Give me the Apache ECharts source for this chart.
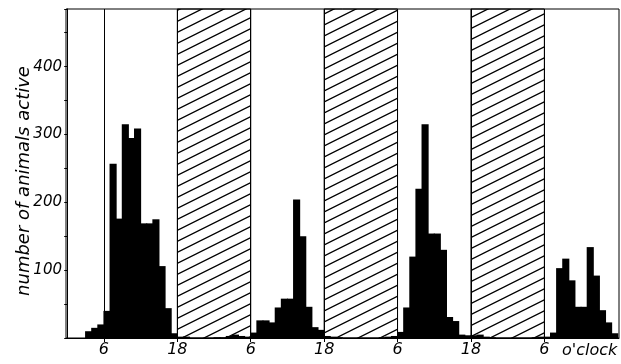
<!DOCTYPE html>
<html>
<head>
<meta charset="utf-8">
<style>
  html, body { margin: 0; padding: 0; background: #fff; }
  #chart { width: 621px; height: 364px; }
</style>
<script src="https://cdn.jsdelivr.net/npm/echarts@6/dist/echarts.min.js"></script>
</head>
<body>
<div id="chart"></div>
<script>
// hour 0 = midnight before the first light period, one bin per hour
const hours = [
  0, 1, 2, 3, 4, 5, 6, 7, 8, 9, 10, 11, 12, 13, 14, 15, 16, 17,
  18, 19, 20, 21, 22, 23, 24, 25, 26, 27, 28, 29,
  30, 31, 32, 33, 34, 35, 36, 37, 38, 39, 40, 41,
  42, 43, 44, 45, 46, 47, 48, 49, 50, 51, 52, 53,
  54, 55, 56, 57, 58, 59, 60, 61, 62, 63, 64, 65,
  66, 67, 68, 69, 70, 71, 72, 73, 74, 75, 76, 77,
  78, 79, 80, 81, 82, 83, 84, 85, 86, 87, 88, 89
];
const animalsActive = [
  0, 0, 0, 10, 15, 20, 40, 257, 176, 315, 295, 309, 169, 169, 175, 106, 44, 7,
  2, 2, 0, 0, 0, 0, 1, 1, 3, 5, 3, 2,
  8, 26, 26, 23, 45, 58, 58, 204, 150, 46, 16, 12,
  3, 2, 1, 0, 0, 0, 0, 0, 0, 1, 2, 3,
  9, 45, 120, 220, 315, 154, 154, 130, 31, 25, 5, 4,
  4, 5, 2, 1, 0, 0, 0, 0, 0, 0, 1, 2,
  2, 8, 103, 117, 85, 46, 46, 134, 92, 41, 23, 7
];
// dark periods (hatched), 18 to 6 o'clock
const darkPeriods = [[18, 30], [42, 54], [66, 78]];
const clockTicks = [6, 18, 30, 42, 54, 66, 78];
const yLabelValues = [100, 200, 300, 400];

// diagonal hatch pattern
const hatch = document.createElement('canvas');
hatch.width = 22;
hatch.height = 11;
const hctx = hatch.getContext('2d');
hctx.strokeStyle = '#000';
hctx.lineWidth = 1.3;
hctx.beginPath();
[-11, 0, 11].forEach(function (d) {
  hctx.moveTo(-22, 22 + d);
  hctx.lineTo(44, -11 + d);
});
hctx.stroke();

const font = 'DejaVu Sans';
const chart = echarts.init(document.getElementById('chart'));

chart.setOption({
  animation: false,
  backgroundColor: '#fff',
  grid: {
    left: 66,
    right: 2,
    top: 9,
    bottom: 26,
    show: true,
    borderColor: '#000',
    borderWidth: 1,
  },
  xAxis: {
    type: 'value',
    min: -0.2,
    max: 90.2,
    axisLine: { show: true, lineStyle: { color: '#000', width: 1 } },
    axisTick: {
      show: true,
      customValues: clockTicks,
      length: 4,
      lineStyle: { color: '#000' },
    },
    axisLabel: {
      customValues: clockTicks,
      formatter: v => (v % 24 === 6 ? '6' : '18'),
      color: '#000',
      fontFamily: font,
      fontStyle: 'italic',
      fontSize: 16,
      margin: 4,
    },
    splitLine: { show: false },
  },
  yAxis: {
    type: 'value',
    min: 0,
    max: 485,
    interval: 50,
    axisLine: { show: true, lineStyle: { color: '#000', width: 1 } },
    axisTick: { show: true, length: 3, lineStyle: { color: '#000' } },
    axisLabel: {
      formatter: v => (yLabelValues.indexOf(v) >= 0 ? String(v) : ''),
      color: '#000',
      fontFamily: font,
      fontStyle: 'italic',
      fontSize: 15,
      margin: 4,
    },
    splitLine: { show: false },
  },
  graphic: [
    {
      type: 'text',
      x: 24,
      y: 181,
      rotation: Math.PI / 2,
      style: {
        text: 'number of animals active',
        fill: '#000',
        font: 'italic 18px "DejaVu Sans"',
        align: 'center',
        verticalAlign: 'middle',
      },
    },
    {
      type: 'text',
      x: 562,
      y: 351,
      style: {
        text: "o'clock",
        fill: '#000',
        font: 'italic 16px "DejaVu Sans"',
        align: 'left',
        verticalAlign: 'middle',
      },
    },
  ],
  series: [
    {
      // background: hatched nights and the 6 / 18 o'clock lines
      type: 'line',
      z: 1,
      data: [],
      markArea: {
        silent: true,
        itemStyle: {
          color: { image: hatch, repeat: 'repeat' },
          opacity: 1,
          borderColor: '#000',
          borderWidth: 1,
        },
        data: darkPeriods.map(p => [{ xAxis: p[0] }, { xAxis: p[1] }]),
      },
      markLine: {
        silent: true,
        symbol: 'none',
        label: { show: false },
        lineStyle: { color: '#000', width: 1, type: 'solid' },
        data: clockTicks.map(h => ({ xAxis: h })),
      },
    },
    {
      type: 'custom',
      z: 2,
      silent: true,
      data: hours.map((h, i) => [h, animalsActive[i]]),
      renderItem(params, api) {
        const h = api.value(0);
        const v = api.value(1);
        const top = api.coord([h, v]);
        const base = api.coord([h + 1, 0]);
        // slight overlap so neighbouring bins merge into one black mass
        return {
          type: 'rect',
          shape: {
            x: top[0] - 0.5,
            y: top[1],
            width: base[0] - top[0] + 1,
            height: base[1] - top[1],
          },
          style: { fill: '#000', lineWidth: 0 },
        };
      },
    },
  ],
});
</script>
</body>
</html>
